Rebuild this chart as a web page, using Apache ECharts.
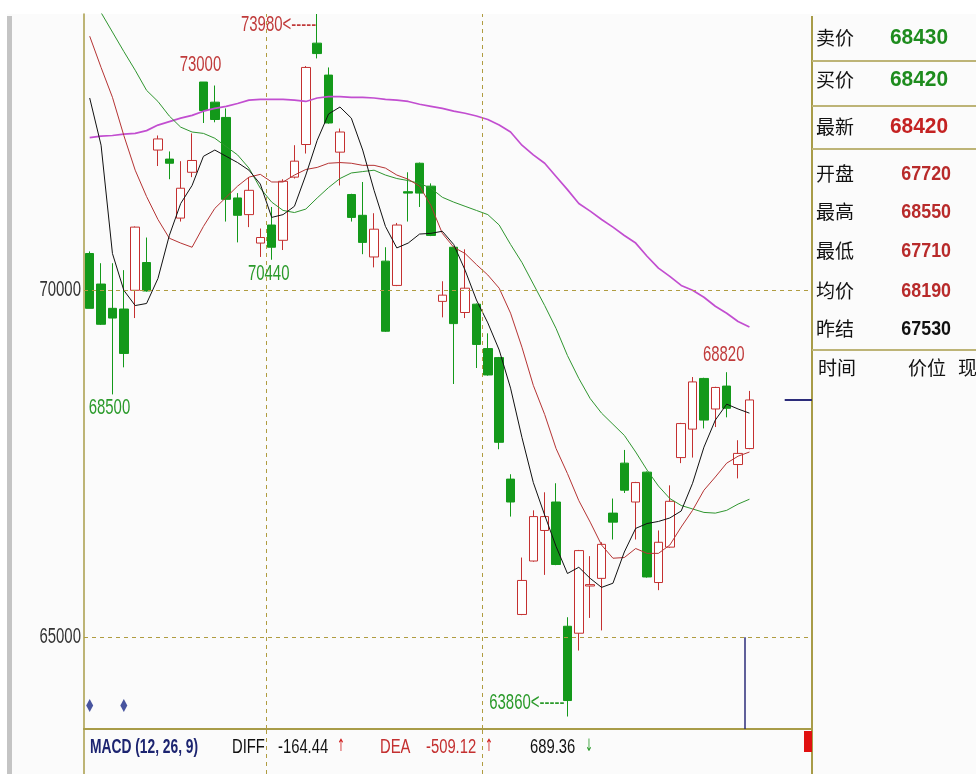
<!DOCTYPE html>
<html><head><meta charset="utf-8">
<script src="https://cdn.jsdelivr.net/npm/echarts@6/dist/echarts.min.js"></script>
<style>html,body{margin:0;padding:0;background:#fbfbfb}#c{width:976px;height:774px}</style>
</head><body><div id="c"></div>
<script>
// ---- data ----
const categories = ['1','2','3','4','5','6','7','8','9','10','11','12','13','14','15','16','17','18','19','20',
  '21','22','23','24','25','26','27','28','29','30','31','32','33','34','35','36','37','38','39','40',
  '41','42','43','44','45','46','47','48','49','50','51','52','53','54','55','56','57','58','59','','','','',''];
const opens  = [70530,70090,69740,69730,70000,70400,72020,71890,71040,71700,73000,72710,72490,71330,71090,70680,70940,70720,71630,72100,
  73560,73100,71990,71380,71080,70480,70420,70070,71420,71830,71500,69840,70620,69680,69800,69160,69030,67280,65330,66100,
  66540,66950,65160,65060,65740,65850,66790,67510,66950,67380,65790,66300,67590,68000,68730,68290,68620,67490,67720];
const closes = [69740,69510,69600,69090,70910,69990,72180,71830,71470,71870,72590,72460,71310,71080,71440,70760,70620,71570,71860,73210,
  73410,72410,72280,71050,70690,70880,69410,70940,71400,71400,70790,69930,69520,70030,69220,68780,67810,66950,65820,66740,
  66740,66050,64090,66250,65760,66340,66660,67120,67230,65870,66370,66960,68080,68680,68130,68600,68300,67650,68420];
const lows   = [69740,69500,68500,68890,69600,69980,71790,71600,70990,71630,72410,72420,70990,70690,70910,70480,70440,70580,71610,71970,
  73340,72400,71510,70990,70520,70330,69400,70060,70990,71200,70780,69610,68650,69600,68880,68770,67710,66740,65320,66090,
  65900,66040,63860,64810,65280,65100,66410,67080,66410,65860,65680,66290,67510,67590,68010,68030,68170,67290,67710];
const highs  = [70560,70390,70390,70290,70920,70760,72230,72000,71860,72260,73000,72950,72620,71400,71630,70890,71200,71600,72090,73230,
  73980,73210,72330,71390,71560,71110,70620,70970,71700,71840,71540,70130,70630,70590,69810,69380,69040,67350,66150,66830,
  67090,67220,65290,66260,66170,66370,67000,67700,67240,67390,66540,67190,68090,68750,68740,68610,68820,67840,68550];
const ma5  = [72770,72090,70530,70000,69780,69810,70170,70790,71250,71510,71930,72020,71930,71840,71730,71530,71050,71090,71210,71660,
  72160,72540,72640,72480,72020,71440,70920,70610,70680,70810,70820,70850,70660,70290,69860,69530,69140,68590,67880,67230,
  66760,66310,65920,66010,65850,65720,65780,66230,66570,66640,66670,66720,66820,67220,67740,68130,68360,68290,68230];
const ma10 = [73660,73210,72780,72230,71730,71350,71020,70750,70680,70620,70920,71180,71340,71500,71630,71670,71560,71560,71660,71740,
  71770,71830,71840,71830,71800,71800,71760,71660,71600,71500,71220,70820,70620,70530,70370,70220,70030,69670,69180,68630,
  68210,67720,67360,66970,66660,66330,66140,66150,66280,66210,66210,66330,66590,66830,67120,67310,67510,67610,67670];
const ma20 = [74290,74000,73720,73440,73170,72880,72720,72510,72350,72280,72260,72190,72070,71950,71760,71470,71270,71150,71120,71170,
  71330,71480,71610,71690,71710,71730,71660,71610,71580,71540,71470,71340,71270,71210,71150,71090,70940,70660,70400,70090,
  69780,69450,69060,68730,68440,68230,68070,67910,67670,67410,67180,67000,66900,66850,66800,66790,66830,66920,66990];
const ma60 = [72200,72220,72230,72250,72260,72300,72380,72430,72480,72520,72580,72620,72650,72690,72740,72750,72750,72750,72740,72720,
  72770,72790,72790,72780,72780,72770,72750,72740,72720,72680,72650,72620,72580,72550,72510,72460,72380,72280,72090,71950,
  71830,71640,71450,71250,71140,71020,70910,70790,70680,70490,70320,70200,70070,70000,69900,69770,69670,69550,69470];
const yTickValues = [65000, 70000];
const dayBreaks = [16, 35];
const signalBars = [0, 3];
const signalLevel = 64020;
const extremes = [
  {idx: 20, value: 73980, text: '73980<-----', kind: 'highArrow'},
  {idx: 10, value: 73000, text: '73000', kind: 'high'},
  {idx: 16, value: 70440, text: '70440', kind: 'low'},
  {idx: 2,  value: 68500, text: '68500', kind: 'low'},
  {idx: 42, value: 63860, text: '63860<-----', kind: 'lowArrow'},
  {idx: 56, value: 68820, text: '68820', kind: 'high'}
];
const lastPrice = 68420;
const cursorPos = 58.1;
const quoteLabels = ['卖价','买价','最新','开盘','最高','最低','均价','昨结'];
const quoteValues = ['68430','68420','68420','67720','68550','67710','68190','67530'];
const quoteColors = ['#1e8c1e','#1e8c1e','#c42222','#b82a2a','#b82a2a','#b82a2a','#b82a2a','#111111'];
const tableHeads = ['时间','价位','现手'];
const macdName = 'MACD (12, 26, 9)';
const macdDiff = '-164.44';
const macdDea = '-509.12';
const macdVal = '689.36';

// ---- styling ----
const RED = '#c43030', GREEN = '#13991a', OLIVE = '#a89c48', DASH = '#b09c40';
const SANS = '"Liberation Sans", Arial, sans-serif';
const YMIN = 63680, YMAX = 73980;

const candleData = opens.map((o, i) => [o, closes[i], lows[i], highs[i]]);

const chart = echarts.init(document.getElementById('c'), null, {renderer: 'canvas'});
const dashed = {color: DASH, type: [4, 4], width: 1};

const option = {
  animation: false,
  backgroundColor: '#fbfbfb',
  grid: [
    {left: 84, right: 164, top: 14, bottom: 45},
    {left: 84, right: 164, top: 729, bottom: 0}
  ],
  xAxis: [
    {type: 'category', gridIndex: 0, data: categories, boundaryGap: true,
      axisLine: {show: true, lineStyle: {color: OLIVE, width: 2}}, axisTick: {show: false},
      axisLabel: {show: false}, splitLine: {show: false}},
    {type: 'value', gridIndex: 0, min: 0, max: categories.length, show: false},
    {type: 'value', gridIndex: 1, min: 0, max: categories.length, show: false}
  ],
  yAxis: [
    {type: 'value', gridIndex: 0, min: YMIN, max: YMAX,
      axisLine: {show: true, lineStyle: {color: OLIVE, width: 1.5}}, axisTick: {show: false},
      splitLine: {show: false}, axisLabel: {show: false}},
    {type: 'value', gridIndex: 1, min: 0, max: 1,
      axisLine: {show: true, lineStyle: {color: OLIVE, width: 1.5}}, axisTick: {show: false},
      axisLabel: {show: false}, splitLine: {show: false}}
  ],
  series: [
    {type: 'line', name: 'guides', xAxisIndex: 1, yAxisIndex: 0, data: [], silent: true,
      markLine: {silent: true, symbol: ['none', 'none'], label: {show: false},
        data: [
          ...yTickValues.map(v => ({yAxis: v, lineStyle: dashed})),
          ...dayBreaks.map(v => ({xAxis: v, lineStyle: dashed})),
          [{coord: [cursorPos, 65000], lineStyle: {color: '#2c2c7a', width: 1.5, type: 'solid'}}, {coord: [cursorPos, YMIN]}],
          [{coord: [61.6, lastPrice], lineStyle: {color: '#2c2c7a', width: 2, type: 'solid'}}, {coord: [categories.length, lastPrice]}]
        ]}},
    {type: 'line', name: 'guides2', xAxisIndex: 2, yAxisIndex: 1, data: [], silent: true,
      markLine: {silent: true, symbol: ['none', 'none'], label: {show: false},
        data: dayBreaks.map(v => ({xAxis: v, lineStyle: dashed}))}},
    {type: 'line', name: 'MA60', data: ma60, showSymbol: false, symbol: 'none',
      lineStyle: {color: '#c24ed0', width: 1.7}, z: 3},
    {type: 'line', name: 'MA20', data: ma20, showSymbol: false, symbol: 'none',
      lineStyle: {color: '#2f952f', width: 1}, z: 3},
    {type: 'line', name: 'MA10', data: ma10, showSymbol: false, symbol: 'none',
      lineStyle: {color: '#b53333', width: 1}, z: 3},
    {type: 'line', name: 'MA5', data: ma5, showSymbol: false, symbol: 'none',
      lineStyle: {color: '#111111', width: 1}, z: 4},
    {type: 'candlestick', name: 'K', data: candleData, barWidth: 9, z: 2,
      itemStyle: {color: '#ffffff', color0: GREEN, borderColor: RED, borderColor0: GREEN, borderWidth: 1}},
    {type: 'scatter', name: 'signal', data: signalBars.map(i => [i, signalLevel]), symbol: 'diamond',
      symbolSize: [7, 13], itemStyle: {color: '#1c2a88'}, z: 5}
  ]
};
chart.setOption(option);

// ---- texts (narrow, tall glyphs via horizontal scaling) ----
const gfx = [];
function txt(text, x, y, fill, o) {
  o = o || {};
  gfx.push({type: 'text', x: x, y: y, scaleX: o.sx || 0.68, z: 10,
    style: {text: text, x: 0, y: 0, fill: fill, fontSize: o.size || 22, fontWeight: o.weight || 'normal',
      fontFamily: o.font || SANS, align: o.align || 'left', verticalAlign: 'middle'}});
}
gfx.push({type: 'rect', shape: {x: 0, y: 0, width: 976, height: 14}, style: {fill: '#ffffff'}, z: -1});
gfx.push({type: 'rect', shape: {x: 0, y: 0, width: 7, height: 774}, style: {fill: '#ffffff'}, z: -1});
gfx.push({type: 'rect', shape: {x: 7, y: 16, width: 5, height: 758}, style: {fill: '#c4c4c4'}});
gfx.push({type: 'line', shape: {x1: 812, y1: 16, x2: 812, y2: 774}, style: {stroke: OLIVE, lineWidth: 2}});
[61, 106, 149, 350].forEach(y => gfx.push({type: 'line', shape: {x1: 812, y1: y, x2: 976, y2: y}, style: {stroke: '#bdb477', lineWidth: 2}}));
gfx.push({type: 'rect', shape: {x: 804, y: 731, width: 8, height: 21}, style: {fill: '#e01010'}});

// y-axis labels placed through the axis scale
yTickValues.forEach(v => {
  const p = chart.convertToPixel({xAxisIndex: 0, yAxisIndex: 0}, [0, v]);
  txt(String(v), 81, p[1], '#333333', {align: 'right'});
});
// high / low annotations
extremes.forEach(e => {
  const p = chart.convertToPixel({seriesIndex: 6}, [e.idx, e.value]);
  const isHigh = e.kind.startsWith('high');
  const col = isHigh ? '#c03a3a' : '#2a9a2a';
  if (e.kind === 'highArrow') txt(e.text, p[0] - 1, p[1] + 11, col, {align: 'right'});
  else if (e.kind === 'lowArrow') txt(e.text, p[0] - 3, p[1] - 14, col, {align: 'right'});
  else if (e.kind === 'high') txt(e.text, p[0] - 3, p[1] - 17, col, {align: 'center'});
  else txt(e.text, p[0] - 3, p[1] + 14, col, {align: 'center'});
});

// right quote panel
const rowY = [38, 80, 127, 174, 212, 251, 291, 329];
quoteLabels.forEach((t, i) => {
  gfx.push({type: 'text', z: 10, style: {text: t, x: 816, y: rowY[i], fill: '#111', fontSize: 19,
    fontFamily: '"Noto Sans CJK SC"', verticalAlign: 'middle'}});
  if (i < 3) txt(quoteValues[i], 948, rowY[i], quoteColors[i], {align: 'right', size: 22, weight: 'bold', sx: 0.95});
  else txt(quoteValues[i], 951, rowY[i], quoteColors[i], {align: 'right', size: 21, weight: 'bold', sx: 0.85});
});
[818, 908, 958].forEach((x, i) => gfx.push({type: 'text', z: 10, style: {text: tableHeads[i], x: x, y: 368, fill: '#111', fontSize: 19,
  fontFamily: '"Noto Sans CJK SC"', verticalAlign: 'middle'}}));

// MACD caption row
const my = 747;
txt(macdName, 90, my, '#1c2470', {weight: 'bold', size: 20, sx: 0.69});
txt('DIFF', 232, my, '#111', {size: 20, sx: 0.74});
txt(macdDiff, 278, my, '#111', {size: 20, sx: 0.74});
txt('↑', 337, my, '#d02020', {font: '"DejaVu Sans"', size: 17, sx: 0.55});
txt('DEA', 380, my, '#c43030', {size: 20, sx: 0.74});
txt(macdDea, 426, my, '#c43030', {size: 20, sx: 0.74});
txt('↑', 485, my, '#d02020', {font: '"DejaVu Sans"', size: 17, sx: 0.55});
txt(macdVal, 530, my, '#111', {size: 20, sx: 0.74});
txt('↓', 585, my, '#2a9a2a', {font: '"DejaVu Sans"', size: 17, sx: 0.55});

chart.setOption({graphic: gfx});
</script></body></html>
